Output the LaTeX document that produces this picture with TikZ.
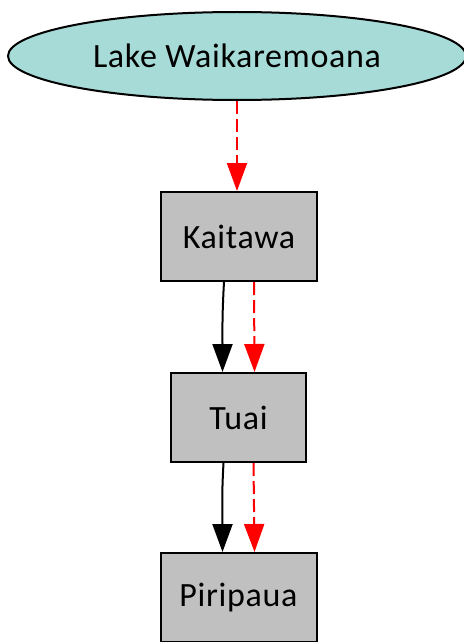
\documentclass[tikz,border=0pt]{standalone}
\usepackage{fontspec}
\setmainfont[LetterSpace=2]{Carlito}
\usetikzlibrary{calc,shapes.geometric,arrows.meta}
\definecolor{lakefill}{HTML}{A6DBD7}
\definecolor{stationfill}{HTML}{C0C0C0}
\tikzset{
  lake/.style={ellipse,draw,line width=2pt,fill=lakefill,minimum width=458pt,minimum height=88pt,inner sep=0pt},
  station/.style={rectangle,draw,line width=2pt,fill=stationfill,minimum height=89pt,inner sep=0pt},
  flow/.style={line width=2pt,-{Triangle[length=28pt,width=20pt]}},
  spill/.style={flow,red,dash pattern=on 13pt off 5pt}
}

\begin{document}
\begin{tikzpicture}[x=1pt,y=-1pt,font=\fontsize{34}{40}\selectfont]
    \useasboundingbox (0,0) rectangle (463,642);
    \node[lake] (lake) at (237,56) {Lake Waikaremoana};
    \node[station,minimum width=156pt] (kaitawa) at (239,236.5) {Kaitawa};
    \node[station,minimum width=135pt] (tuai) at (238.5,417.5) {Tuai};
    \node[station,minimum width=156pt] (piripaua) at (238.5,597.5) {Piripaua};
    % water paths
    \draw[spill] (lake.south) -- (lake.south |- kaitawa.north);
    \draw[flow] ($(kaitawa.south)+(-15,0)$) .. controls ($(kaitawa.south)+(-17,35)$) and ($(tuai.north)+(-16,-40)$) .. ($(tuai.north)+(-16,0)$);
    \draw[spill] ($(kaitawa.south)+(15,0)$) -- ($(tuai.north)+(16,0)$);
    \draw[flow] ($(tuai.south)+(-15,0)$) .. controls ($(tuai.south)+(-17,35)$) and ($(piripaua.north)+(-16,-40)$) .. ($(piripaua.north)+(-16,0)$);
    \draw[spill] ($(tuai.south)+(15,0)$) -- ($(piripaua.north)+(16,0)$);
\end{tikzpicture}
\end{document}
